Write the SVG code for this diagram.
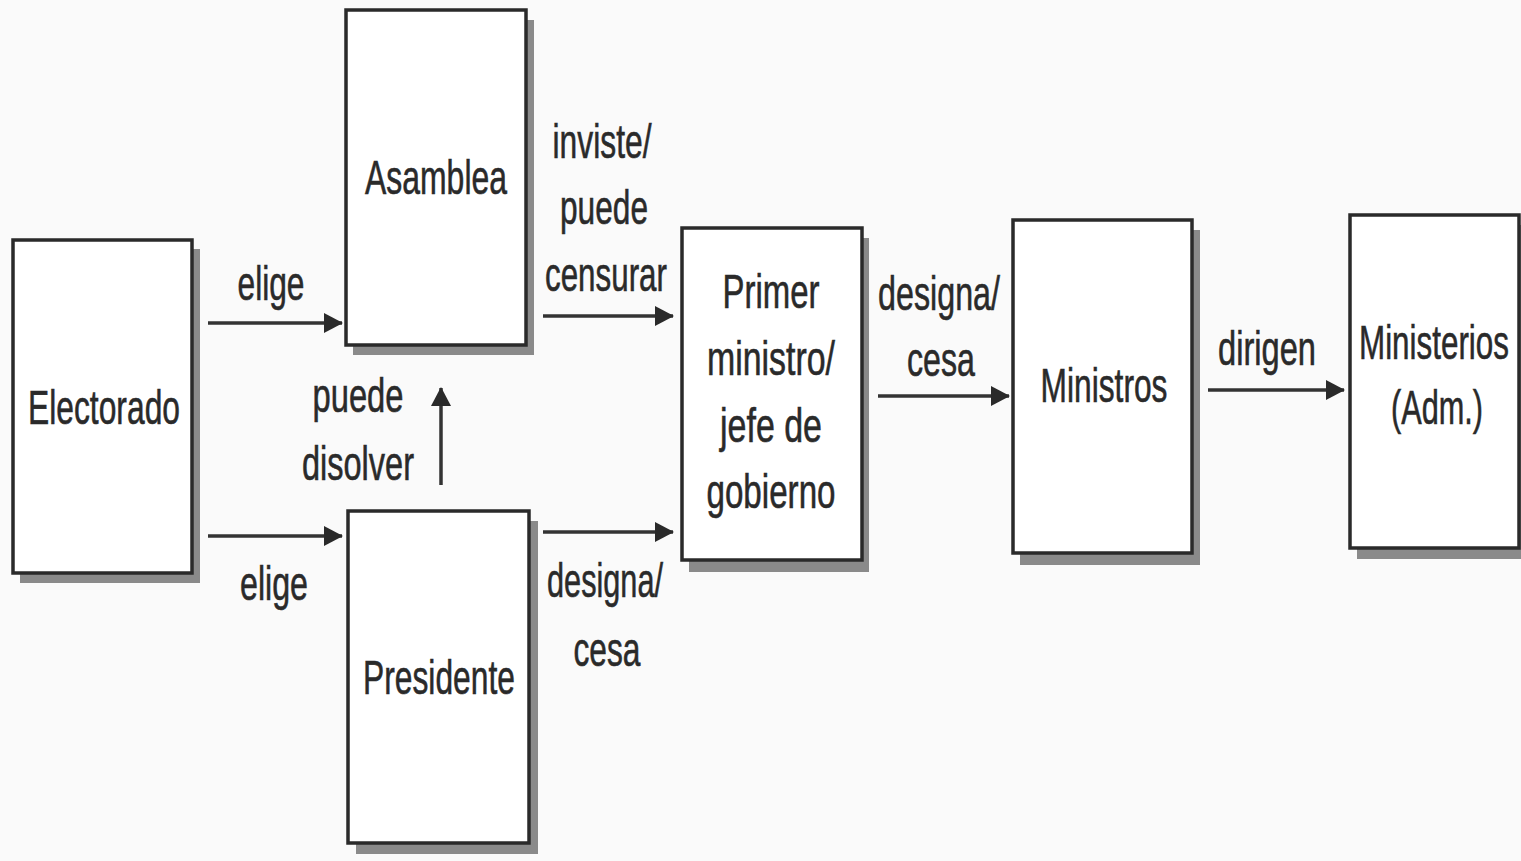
<svg xmlns="http://www.w3.org/2000/svg" width="1521" height="861" viewBox="0 0 1521 861">
<defs>
<style>
.box{fill:#fff;stroke:#2a2a2a;stroke-width:3.5}
.shadow{fill:#8a8a8a}
.t{font-family:"Liberation Sans",Arial,sans-serif;font-size:49px;fill:#2a2a2a;stroke:#2a2a2a;stroke-width:0.6;text-anchor:middle}
.conn{stroke:#333;stroke-width:3.5;fill:none}
</style>
<marker id="arr" markerUnits="userSpaceOnUse" markerWidth="20" markerHeight="22" refX="18" refY="11" orient="auto">
<path d="M0,1 L19,11 L0,21 Z" fill="#2a2a2a"/>
</marker>
</defs>
<rect width="1521" height="861" fill="#fafafa"/>

<g id="electorado">
<rect class="shadow" x="20" y="249" width="180" height="334"/>
<rect class="box" x="13" y="240" width="179" height="333"/>
<text class="t" x="104" y="424" textLength="152" lengthAdjust="spacingAndGlyphs">Electorado</text>
</g>

<g id="asamblea">
<rect class="shadow" x="353" y="20" width="181" height="335"/>
<rect class="box" x="346" y="10" width="180" height="335"/>
<text class="t" x="436" y="194" textLength="142" lengthAdjust="spacingAndGlyphs">Asamblea</text>
</g>

<g id="presidente">
<rect class="shadow" x="356" y="521" width="182" height="333"/>
<rect class="box" x="348" y="511" width="181" height="332"/>
<text class="t" x="439" y="694" textLength="152" lengthAdjust="spacingAndGlyphs">Presidente</text>
</g>

<g id="primer-ministro">
<rect class="shadow" x="689" y="238" width="180" height="334"/>
<rect class="box" x="682" y="228" width="180" height="332"/>
<text class="t" x="771" y="308" textLength="97" lengthAdjust="spacingAndGlyphs">Primer</text>
<text class="t" x="771" y="375" textLength="128" lengthAdjust="spacingAndGlyphs">ministro/</text>
<text class="t" x="771" y="442" textLength="102" lengthAdjust="spacingAndGlyphs">jefe de</text>
<text class="t" x="771" y="508" textLength="129" lengthAdjust="spacingAndGlyphs">gobierno</text>
</g>

<g id="ministros">
<rect class="shadow" x="1020" y="230" width="180" height="335"/>
<rect class="box" x="1013" y="220" width="179" height="333"/>
<text class="t" x="1104" y="402" textLength="127" lengthAdjust="spacingAndGlyphs">Ministros</text>
</g>

<g id="ministerios">
<rect class="shadow" x="1357" y="225" width="164" height="334"/>
<rect class="box" x="1350" y="215" width="169" height="333"/>
<text class="t" x="1434" y="359" textLength="150" lengthAdjust="spacingAndGlyphs">Ministerios</text>
<text class="t" x="1437" y="424" textLength="92" lengthAdjust="spacingAndGlyphs">(Adm.)</text>
</g>

<g id="connectors">
<line class="conn" x1="208" y1="323" x2="342" y2="323" marker-end="url(#arr)"/>
<line class="conn" x1="208" y1="536" x2="342" y2="536" marker-end="url(#arr)"/>
<line class="conn" x1="441" y1="485" x2="441" y2="388" marker-end="url(#arr)"/>
<line class="conn" x1="543" y1="316" x2="673" y2="316" marker-end="url(#arr)"/>
<line class="conn" x1="543" y1="532" x2="673" y2="532" marker-end="url(#arr)"/>
<line class="conn" x1="878" y1="396" x2="1009" y2="396" marker-end="url(#arr)"/>
<line class="conn" x1="1208" y1="390" x2="1344" y2="390" marker-end="url(#arr)"/>
<text class="t" x="271" y="300" textLength="67" lengthAdjust="spacingAndGlyphs">elige</text>
<text class="t" x="274" y="600" textLength="68" lengthAdjust="spacingAndGlyphs">elige</text>
<text class="t" x="358" y="412" textLength="91" lengthAdjust="spacingAndGlyphs">puede</text>
<text class="t" x="358" y="480" textLength="112" lengthAdjust="spacingAndGlyphs">disolver</text>
<text class="t" x="602" y="158" textLength="99" lengthAdjust="spacingAndGlyphs">inviste/</text>
<text class="t" x="604" y="224" textLength="88" lengthAdjust="spacingAndGlyphs">puede</text>
<text class="t" x="606" y="291" textLength="122" lengthAdjust="spacingAndGlyphs">censurar</text>
<text class="t" x="605" y="597" textLength="116" lengthAdjust="spacingAndGlyphs">designa/</text>
<text class="t" x="607" y="666" textLength="67" lengthAdjust="spacingAndGlyphs">cesa</text>
<text class="t" x="939" y="310" textLength="122" lengthAdjust="spacingAndGlyphs">designa/</text>
<text class="t" x="941" y="376" textLength="68" lengthAdjust="spacingAndGlyphs">cesa</text>
<text class="t" x="1267" y="365" textLength="98" lengthAdjust="spacingAndGlyphs">dirigen</text>
</g>
</svg>
